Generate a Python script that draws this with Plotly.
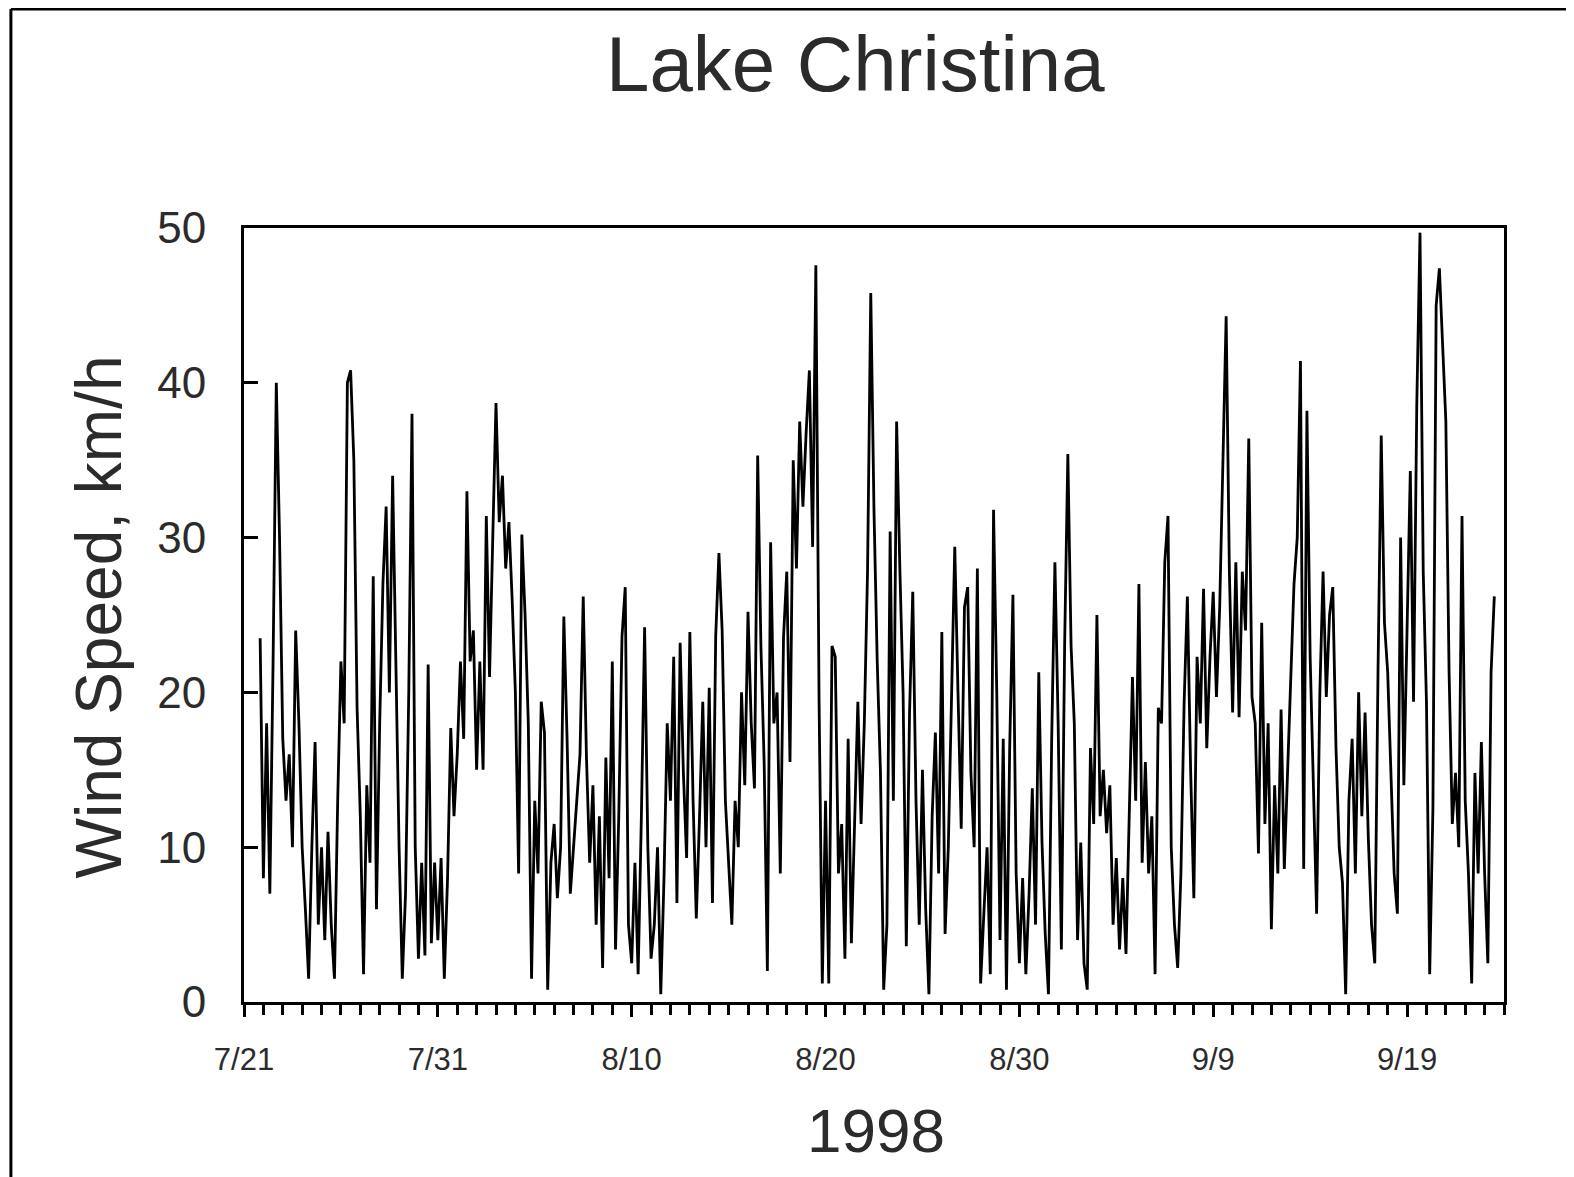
import pandas as pd
import plotly.graph_objects as go

# Wind speed (km/h), 4-hourly readings starting 1998-07-21 20:00
wind_jul21_jul29 = [23.5, 8, 18, 7, 22, 40, 30,
                    17, 13, 16, 10, 24, 18,
                    10, 6, 1.5, 10, 16.8, 5,
                    10, 4, 11, 5, 1.5, 13,
                    22, 18, 40, 40.8, 35, 19,
                    12, 1.8, 14, 9, 27.5, 6,
                    18, 27, 32, 20, 34, 22,
                    10, 1.5, 7, 20, 38]
wind_jul29_aug06 = [10, 2.8, 9, 3, 21.8, 3.8,
                    9, 4, 9.3, 1.5, 8, 17.7,
                    12, 16, 22, 17, 33, 22,
                    24, 15, 22, 15, 31.4, 21,
                    30, 38.7, 31, 34, 28, 31,
                    26, 20, 8.3, 30.2, 25, 18,
                    1.5, 13, 8.3, 19.4, 17.4, 0.8,
                    9, 11.5, 6.7, 10, 24.9, 17]
wind_aug06_aug14 = [7, 10, 12.5, 16, 26.2, 15.8,
                    9, 14, 5, 12, 2.2, 15.8,
                    8, 22, 3.4, 12, 23.6, 26.8,
                    5, 2.5, 9, 1.8, 12, 24.2,
                    10, 2.8, 5, 10, 0.5, 8,
                    18, 13, 22.3, 6.4, 23.2, 14.8,
                    9.3, 23.9, 13, 5.4, 12, 19.4,
                    10, 20.3, 6.4, 23.6, 29, 24]
wind_aug14_aug23 = [13, 8.6, 5, 13, 10, 20,
                    14, 25.2, 18, 13.8, 35.3, 23,
                    15.5, 2, 29.7, 18, 20, 8.3,
                    23.6, 27.8, 15.5, 35, 28, 37.5,
                    32, 36.8, 40.8, 29.4, 47.6, 19.4,
                    1.2, 13, 1.2, 23, 22.3, 8.3,
                    11.5, 2.8, 17, 3.8, 11.5, 19.4,
                    11.5, 18, 27.8, 45.8, 31.7, 22,
                    14.8, 0.8, 5, 30.4]
wind_aug23_aug31 = [13, 37.5, 28,
                    20, 3.6, 18.7, 26.5, 13, 5,
                    15, 6, 0.5, 12, 17.4, 8.3,
                    23.9, 4.4, 10, 19.7, 29.4, 20,
                    11.2, 25.5, 26.8, 14.8, 10, 28,
                    1.2, 5.7, 10, 1.8, 31.8, 20,
                    4, 17, 0.8, 16.4, 26.3, 8.3,
                    2.5, 8, 1.8, 7, 13.8, 5,
                    21.3]
wind_aug31_sep08 = [10.3, 4.4, 0.5, 17, 28.4,
                    18, 3.4, 23, 35.4, 23, 18,
                    4, 10.3, 2.5, 0.8, 16.4, 11.5,
                    25, 12, 15, 10.9, 14, 5,
                    9.3, 3.4, 8, 3.1, 13, 21,
                    13, 27, 9, 15.5, 8.3, 12,
                    1.8, 19, 18, 28.4, 31.4, 10,
                    5, 2.2, 8.3, 19.4, 26.2, 15,
                    6.7, 22.3, 18, 26.7, 16.4, 22.3]
wind_sep09_sep16 = [26.5, 19.7, 25.5, 34, 44.3, 27.8,
                    18.7, 28.4, 18.4, 27.8, 24, 36.4,
                    19.7, 18, 9.6, 24.5, 11.5, 18,
                    4.7, 14, 8.3, 18.9, 8.6, 14.8,
                    21.3, 27, 30, 41.4, 8.6, 38.2,
                    22.3, 14.8, 5.7, 20, 27.8, 19.7,
                    25, 26.8, 16.4, 10, 7.7, 0.5,
                    13, 17, 8.3]
wind_sep16_sep23 = [20, 12, 18.7,
                    10.6, 5, 2.5, 21.3, 36.6, 24.5,
                    21.3, 14.8, 8.3, 5.7, 30, 14,
                    24.5, 34.3, 19.4, 38.5, 49.7, 27.8,
                    19.4, 1.8, 12.5, 45, 47.4, 42.4,
                    37.5, 21.3, 11.5, 14.8, 10, 31.4,
                    13, 8.3, 1.2, 14.8, 8.3, 16.8,
                    8.3, 2.5, 21.3, 26.2]

tick_dates = ["1998-07-21", "1998-07-31", "1998-08-10", "1998-08-20",
              "1998-08-30", "1998-09-09", "1998-09-19"]
tick_labels = ["7/21", "7/31", "8/10", "8/20", "8/30", "9/9", "9/19"]

wind = (wind_jul21_jul29 + wind_jul29_aug06 + wind_aug06_aug14 + wind_aug14_aug23 +
        wind_aug23_aug31 + wind_aug31_sep08 + wind_sep09_sep16 + wind_sep16_sep23)
times = pd.date_range("1998-07-21 20:00", periods=len(wind), freq="4h")

FONT = "Arial, Liberation Sans, Helvetica, sans-serif"
TXT = "#2b2b2b"

fig = go.Figure()
fig.add_trace(go.Scatter(x=times, y=wind, mode="lines",
                         line=dict(color="black", width=2.8), hoverinfo="x+y"))

fig.update_layout(
    width=1574, height=1177,
    margin=dict(l=236, r=78, t=220, b=183),
    paper_bgcolor="white", plot_bgcolor="white",
    showlegend=False,
    font=dict(family=FONT, color=TXT),
    xaxis=dict(
        type="date", range=["1998-07-21", "1998-09-24"],
        showline=True, linewidth=3, linecolor="black", mirror=True,
        showgrid=False, zeroline=False,
        tickmode="array", tickvals=tick_dates, ticktext=tick_labels,
        ticks="outside", ticklen=12, tickwidth=3, tickcolor="black",
        tickfont=dict(size=31, color=TXT, family=FONT),
        ticklabelstandoff=16,
        minor=dict(ticks="outside", ticklen=10, tickwidth=3, tickcolor="black",
                   tickmode="linear", tick0="1998-07-21", dtick=86400000, showgrid=False),
    ),
    yaxis=dict(
        range=[0, 50], tickmode="linear", tick0=0, dtick=10,
        showline=True, linewidth=3, linecolor="black", mirror=True,
        showgrid=False, zeroline=False,
        ticks="inside", ticklen=14, tickwidth=3, tickcolor="black",
        tickfont=dict(size=44, color=TXT, family=FONT),
        ticklabelstandoff=26,
    ),
    annotations=[
        dict(text="Lake Christina", xref="paper", yref="paper", x=0.485, y=1.212,
             xanchor="center", yanchor="middle", showarrow=False,
             font=dict(size=78, color=TXT, family=FONT)),
        dict(text="1998", xref="paper", yref="paper", x=0.5016, y=-0.1654,
             xanchor="center", yanchor="middle", showarrow=False,
             font=dict(size=62, color=TXT, family=FONT)),
        dict(text="Wind Speed, km/h", xref="paper", yref="paper", x=-0.115, y=0.497,
             xanchor="center", yanchor="middle", showarrow=False, textangle=-90,
             font=dict(size=64, color=TXT, family=FONT)),
    ],
    shapes=[
        dict(type="line", xref="paper", yref="paper", x0=-0.185, x1=-0.185,
             y0=1.2829, y1=-0.2287, line=dict(color="black", width=3)),
        dict(type="line", xref="paper", yref="paper", x0=-0.185, x1=1.0588,
             y0=1.2829, y1=1.2829, line=dict(color="black", width=3)),
    ],
)

fig.write_html("out.html")
